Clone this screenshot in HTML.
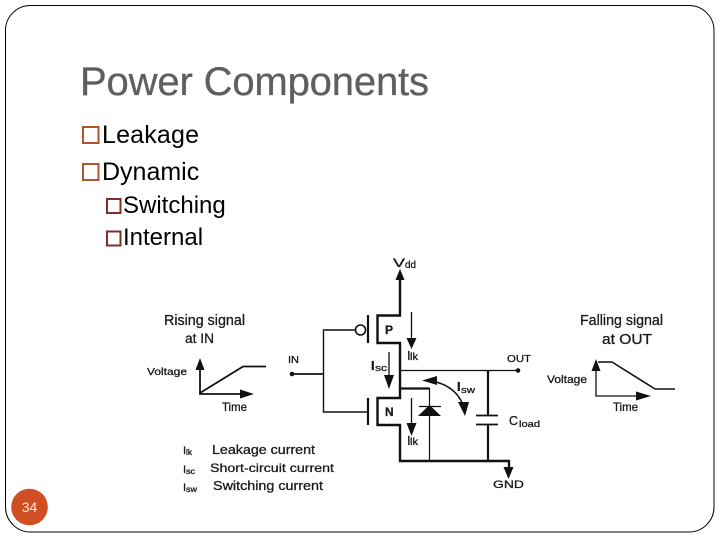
<!DOCTYPE html>
<html><head><meta charset="utf-8">
<style>
html,body{margin:0;padding:0;background:#fff}
svg{display:block}
text{font-family:"Liberation Sans",sans-serif}
.d{fill:#1a1a1a;stroke:#1a1a1a;stroke-width:.3}
</style></head><body>
<svg width="720" height="540" viewBox="0 0 720 540" xmlns="http://www.w3.org/2000/svg">
<rect width="720" height="540" fill="#fff"/>
<rect x="5.5" y="5.5" width="708.5" height="526.5" rx="25" ry="25" fill="#fff" stroke="#000" stroke-width="1"/>
<circle cx="29.5" cy="507" r="18.3" fill="#cf4f22"/>
<text x="29.5" y="512" font-size="14" fill="#fbe9df" text-anchor="middle">34</text>

<text x="80" y="95" font-size="40" fill="#5f5f5f" stroke="#5f5f5f" stroke-width=".3" textLength="349" lengthAdjust="spacing">Power Components</text>
<g fill="none" stroke-width="2">
<rect x="83" y="127" width="15.5" height="16" stroke="#b0552f"/>
<rect x="83" y="164" width="15.5" height="16" stroke="#b0552f"/>
<rect x="107" y="199" width="13.5" height="14" stroke="#7d2f2c"/>
<rect x="107" y="231.500" width="13.5" height="14" stroke="#7d2f2c"/>
</g>
<text x="102" y="143" font-size="25" fill="#000" textLength="97">Leakage</text>
<text x="102" y="180" font-size="25" fill="#000">Dynamic</text>
<text x="123" y="213" font-size="24" fill="#000">Switching</text>
<text x="123" y="245" font-size="24" fill="#000">Internal</text>

<g stroke="#111" fill="none">
<path d="M200 362V394H250" stroke-width="1.8"/>
<path d="M200 393L243 366.500H266" stroke-width="1.8"/>
<path d="M292 374H323.500" stroke-width="1.8"/>
<path d="M323.500 330V412.500M323 330H356M323 412H368" stroke-width="1.4"/>
<circle cx="360.500" cy="330" r="5" stroke-width="1.6"/>
<path d="M368 315V343M368 398V425" stroke-width="2.2"/>
<path d="M400 272V315.500H377.500V343H400V398H377.500V425H400V461H509V470" stroke-width="2.4"/>
<path d="M400 370.500H518" stroke-width="1.3"/>
<path d="M400 388.500H429.500" stroke-width="2.2"/>
<path d="M429.500 388V461" stroke-width="1.2"/>
<path d="M488 371V415M488 424V461" stroke-width="2.2"/>
<path d="M476 415.500H498M476 424.500H498" stroke-width="1.8"/>
<path d="M419 406.500H441" stroke-width="1.2"/>
<path d="M389 352V378M411.500 312V340M411.500 398V425" stroke-width="1.3"/>
<path d="M596 365V396H640" stroke-width="1.3"/>
<path d="M598 362H612L655 389H675" stroke-width="1.6"/>
<path d="M432 381C447 384 458 392 463 405" stroke-width="1.5"/>
</g>
<g fill="#111">
<path d="M200 358L195.500 370H204.500Z"/>
<path d="M254 394L240 389.500V398.500Z"/>
<path d="M400 269L395.500 280H404.500Z"/>
<path d="M389 389L384 375H394Z"/>
<path d="M411.500 349L406.500 338H416.500Z"/>
<path d="M411.500 436L406.500 423H416.500Z"/>
<path d="M508.500 479L503.500 467H513.500Z"/>
<path d="M429.500 405L418 416H441Z"/>
<path d="M422 380.500L437 376V385Z"/>
<path d="M465 416L458 402L469 402Z"/>
<path d="M596 359L591.500 371H600.500Z"/>
<path d="M651 396L636 391.500V400.500Z"/>
<circle cx="292" cy="374" r="2.300"/>
<circle cx="518" cy="370.500" r="2.300"/>
</g>

<g class="d" lengthAdjust="spacingAndGlyphs">
<text x="164" y="325" font-size="15" textLength="81" lengthAdjust="spacingAndGlyphs">Rising signal</text>
<text x="185" y="343" font-size="14" textLength="29" lengthAdjust="spacingAndGlyphs">at IN</text>
<text x="147" y="375" font-size="10.500" textLength="40" lengthAdjust="spacingAndGlyphs">Voltage</text>
<text x="222" y="411" font-size="12" textLength="25" lengthAdjust="spacingAndGlyphs">Time</text>
<text x="288" y="363" font-size="10" textLength="11" lengthAdjust="spacingAndGlyphs">IN</text>
<text x="393" y="267" font-size="12" textLength="12" lengthAdjust="spacingAndGlyphs">V</text>
<text x="405" y="268" font-size="10.500" textLength="11" lengthAdjust="spacingAndGlyphs">dd</text>
<text x="385" y="334" font-size="12" font-weight="bold">P</text>
<text x="385" y="416" font-size="12" font-weight="bold">N</text>
<text x="371" y="370" font-size="13" font-weight="bold">I</text>
<text x="375" y="371" font-size="9" textLength="12" lengthAdjust="spacingAndGlyphs">sc</text>
<text x="407" y="360" font-size="13">I</text>
<text x="410" y="360" font-size="10" textLength="8" lengthAdjust="spacingAndGlyphs">lk</text>
<text x="407" y="445" font-size="13">I</text>
<text x="410" y="445" font-size="10" textLength="8" lengthAdjust="spacingAndGlyphs">lk</text>
<text x="457" y="391" font-size="13" font-weight="bold">I</text>
<text x="461" y="393" font-size="9.500" textLength="14" lengthAdjust="spacingAndGlyphs">sw</text>
<text x="507" y="362" font-size="10.500" textLength="24" lengthAdjust="spacingAndGlyphs">OUT</text>
<text x="509" y="425" font-size="13" textLength="9" lengthAdjust="spacingAndGlyphs">C</text>
<text x="519" y="427" font-size="9.500" textLength="21" lengthAdjust="spacingAndGlyphs">load</text>
<text x="493" y="488" font-size="11" textLength="31" lengthAdjust="spacingAndGlyphs">GND</text>
<text x="580" y="325" font-size="15" textLength="83" lengthAdjust="spacingAndGlyphs">Falling signal</text>
<text x="602" y="344" font-size="14.500" textLength="50" lengthAdjust="spacingAndGlyphs">at  OUT</text>
<text x="547" y="383" font-size="11" textLength="40" lengthAdjust="spacingAndGlyphs">Voltage</text>
<text x="613" y="411" font-size="12" textLength="25" lengthAdjust="spacingAndGlyphs">Time</text>
<text x="183" y="454" font-size="11">I</text>
<text x="186" y="455" font-size="8" textLength="6" lengthAdjust="spacingAndGlyphs">lk</text>
<text x="183" y="473" font-size="11">I</text>
<text x="186" y="474" font-size="8" textLength="9" lengthAdjust="spacingAndGlyphs">sc</text>
<text x="183" y="491" font-size="11">I</text>
<text x="186" y="492" font-size="8" textLength="11" lengthAdjust="spacingAndGlyphs">sw</text>
<text x="212" y="454" font-size="13" textLength="103" lengthAdjust="spacingAndGlyphs">Leakage current</text>
<text x="210" y="472" font-size="12" textLength="124" lengthAdjust="spacingAndGlyphs">Short-circuit current</text>
<text x="213" y="490" font-size="13" textLength="110" lengthAdjust="spacingAndGlyphs">Switching current</text>
</g>
</svg>
</body></html>
